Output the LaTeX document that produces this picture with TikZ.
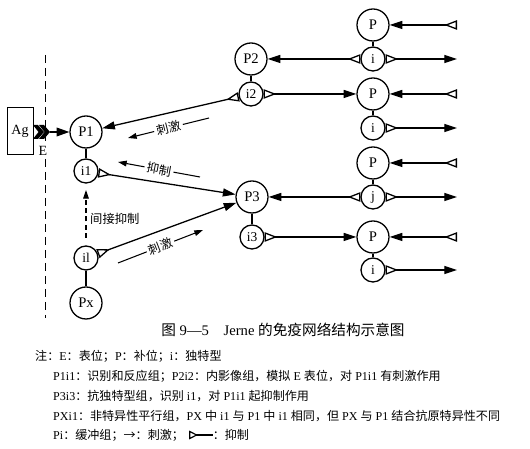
\documentclass[tikz,border=0pt]{standalone}
\usepackage{fontspec}
\setmainfont{Liberation Serif}
\newfontfamily\cjk{Noto Sans CJK SC}
\usetikzlibrary{arrows.meta,positioning}

\newcommand{\zh}[1]{{\cjk #1}}

\tikzset{
	pbig/.style={circle, draw, line width=1.1pt, minimum size=9.6mm, inner sep=0pt, font=\fontsize{12.5}{13}\selectfont},
	psmall/.style={circle, draw, line width=1.1pt, minimum size=7.2mm, inner sep=0pt, font=\fontsize{11.5}{12}\selectfont},
	link/.style={line width=1.1pt},
	inh/.style={line width=1.1pt, {Triangle[open,reversed,length=3.8mm,width=2.8mm]}-{Triangle[length=3.8mm,width=2.4mm]}},
	note/.style={line width=0.9pt, -{Triangle[length=2.6mm,width=1.7mm]}},
	lbl/.style={font=\cjk\fontsize{10.5}{12}\selectfont, fill=white, inner sep=2pt, sloped},
	capt/.style={anchor=west, font=\fontsize{10.3}{12}\selectfont, inner sep=0pt}
}

\begin{document}
\begin{tikzpicture}[x=0.3mm, y=-0.3mm, >={Triangle[length=3.8mm,width=2.6mm]}]
	\useasboundingbox (0,0) rectangle (530,449);

	% antigen and epitope
	\draw[line width=0.8pt, dash pattern=on 2.4mm off 1.5mm] (45,55) coordinate (dtop) -- (45,318) coordinate (dbot);
	\node[draw, fill=white, line width=0.8pt, minimum width=7.8mm, minimum height=14.1mm, inner sep=0pt, font=\fontsize{12}{13}\selectfont] (Ag) at (20,131) {Ag};
	\fill (33,125) -- (38,125) -- (44,132) -- (38,139) -- (33,139) -- (38.5,132) -- cycle;
	\fill (39,125) -- (44,125) -- (50,132) -- (44,139) -- (39,139) -- (44.5,132) -- cycle;
	\coordinate (epi) at (50,132);
	\node[fill=white, inner sep=1pt, font=\fontsize{12}{13}\selectfont] (E) at (43,151) {E};

	% left column
	\node[pbig] (P1) at (86,132) {P1};
	\node[psmall] (i1) at (86,171) {i1};
	\node[psmall] (il) at (86,258) {il};
	\node[pbig] (Px) at (86,303) {Px};

	% middle column
	\node[pbig] (P2) at (251,59) {P2};
	\node[psmall] (i2) at (251,94) {i2};
	\node[pbig] (P3) at (252,197) {P3};
	\node[psmall] (i3) at (252,237) {i3};

	% right column
	\node[pbig] (Pa) at (373,25) {P};
	\node[psmall] (ia) at (373,59) {i};
	\node[pbig] (Pb) at (373,94) {P};
	\node[psmall] (ib) at (373,128) {i};
	\node[pbig] (Pc) at (373,163) {P};
	\node[psmall] (jc) at (373,197) {j};
	\node[pbig] (Pd) at (373,237) {P};
	\node[psmall] (id) at (373,270) {i};

	\coordinate (sa) at (457,25); \coordinate (oa) at (457,59);
	\coordinate (sb) at (457,94); \coordinate (ob) at (457,128);
	\coordinate (sc) at (457,163); \coordinate (oc) at (457,197);
	\coordinate (sd) at (457,237); \coordinate (od) at (457,270);

	% P-i links
	\draw[link] (P1) -- (i1); \draw[link] (il) -- (Px);
	\draw[link] (P2) -- (i2); \draw[link] (P3) -- (i3);
	\draw[link] (Pa) -- (ia); \draw[link] (Pb) -- (ib);
	\draw[link] (Pc) -- (jc); \draw[link] (Pd) -- (id);

	% network connections
	\draw[link, ->] (epi) -- (P1);
	\draw[inh] (i2) -- (P1); \draw[inh] (i2) -- (Pb);
	\draw[inh] (i1) -- (P3); \draw[inh] (il) -- (P3);
	\draw[inh] (ia) -- (P2); \draw[inh] (jc) -- (P3);
	\draw[inh] (i3) -- (Pd);
	\draw[inh] (sa) -- (Pa); \draw[inh] (sb) -- (Pb);
	\draw[inh] (sc) -- (Pc); \draw[inh] (sd) -- (Pd);
	\draw[inh] (ia) -- (oa); \draw[inh] (ib) -- (ob);
	\draw[inh] (jc) -- (oc); \draw[inh] (id) -- (od);

	% effect notes
	\coordinate (stA) at (209,118); \coordinate (stB) at (128,138);
	\draw[note] (stA) -- node[lbl] {刺激} (stB);
	\coordinate (inA) at (200,177); \coordinate (inB) at (118,162);
	\draw[note] (inA) -- node[lbl] {抑制} (inB);
	\coordinate (stC) at (118,263); \coordinate (stD) at (203,230);
	\draw[note] (stC) -- node[lbl] {刺激} (stD);
	\coordinate (vA) at (86,238); \coordinate (vB) at (86,190);
	\draw[note, dash pattern=on 1.5mm off 1mm] (vA) -- (vB);
	\node[anchor=west, inner sep=0pt, font=\cjk\fontsize{10.5}{12}\selectfont] (vlbl) at (90,219) {间接抑制};

	% caption
	\node[anchor=center, inner sep=0pt, font=\fontsize{12.5}{14}\selectfont] (title) at (283,330) {\zh{图} 9—5\quad Jerne \zh{的免疫网络结构示意图}};
	\node[capt] (n1) at (35,356) {\zh{注：}E\zh{：表位；}P\zh{：补位；}i\zh{：独特型}};
	\node[capt] (n2) at (53,376) {P1i1\zh{：识别和反应组；}P2i2\zh{：内影像组，模拟} E \zh{表位，对} P1i1 \zh{有刺激作用}};
	\node[capt] (n3) at (53,396) {P3i3\zh{：抗独特型组，识别} i1\zh{，对} P1i1 \zh{起抑制作用}};
	\node[capt] (n4) at (53,416) {PXi1\zh{：非特异性平行组，}PX \zh{中} i1 \zh{与} P1 \zh{中} i1 \zh{相同，但} PX \zh{与} P1 \zh{结合抗原特异性不同}};
	\node[capt] (n5) at (53,435) {Pi\zh{：缓冲组；→：刺激；}};
	\coordinate[right=1.5mm of n5.east] (lgA);
	\coordinate[right=7mm of lgA] (lgB);
	\draw[line width=1pt, {Triangle[open,reversed,length=2.6mm,width=2.6mm]}-] (lgA) -- (lgB);
	\node[capt] (n6) at (lgB) {\zh{：抑制}};
\end{tikzpicture}
\end{document}
